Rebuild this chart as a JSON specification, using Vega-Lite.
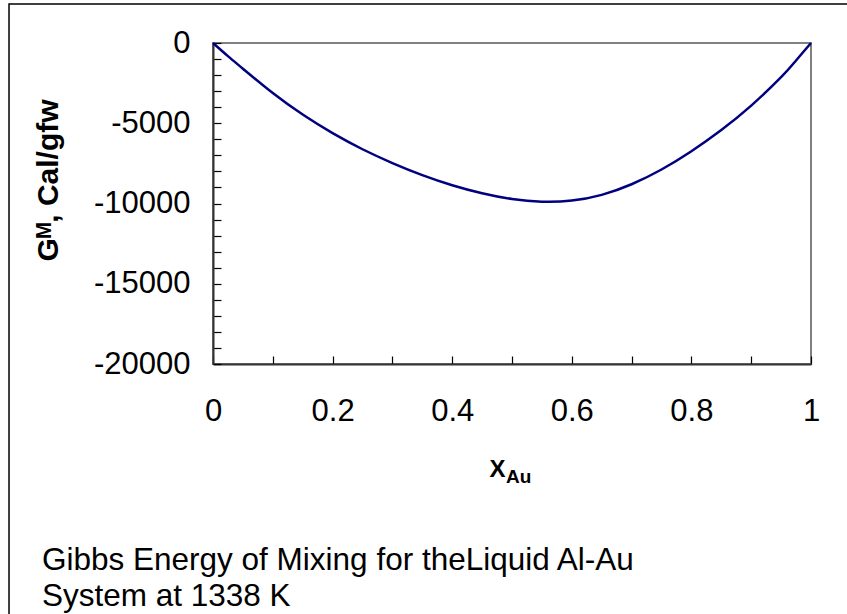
{
  "$schema": "https://vega.github.io/schema/vega-lite/v6.json",
  "width": 598,
  "height": 321,
  "autosize": {"type": "none"},
  "padding": {"left": 213, "top": 43, "right": 36, "bottom": 250},
  "background": "white",
  "config": {
    "view": {"stroke": "#808080", "strokeWidth": 2},
    "font": "Liberation Sans",
    "axisX": {
      "labelExpr": "round(datum.value*10) % 2 === 0 ? '' + datum.value : ''",
      "grid": false,
      "tickSize": -8,
      "tickColor": "black",
      "tickWidth": 1.2,
      "domainColor": "#333333",
      "domainWidth": 2,
      "labelFontSize": 31,
      "labelColor": "black",
      "labelPadding": 40,
      "labelFlush": false,
      "labelOverlap": false,
      "labelBound": false,
      "labelFont": "Liberation Sans",
      "titleFont": "Liberation Sans",
      "titleFontSize": 24,
      "titleFontWeight": "bold",
      "titleColor": "black",
      "titleX": 284,
      "titleY": 112,
      "titleAlign": "center",
      "titleBaseline": "alphabetic"
    },
    "axisY": {
      "labelExpr": "datum.value % 5000 === 0 ? '' + datum.value : ''",
      "grid": false,
      "tickSize": -8,
      "tickColor": "black",
      "tickWidth": 1.2,
      "domainColor": "#333333",
      "domainWidth": 2,
      "labelFontSize": 31,
      "labelColor": "black",
      "labelPadding": 31,
      "labelOverlap": false,
      "labelBound": false,
      "labelFont": "Liberation Sans",
      "titleFont": "Liberation Sans",
      "titleFontSize": 30,
      "titleFontWeight": "bold",
      "titleColor": "black",
      "titleAngle": 270,
      "titleX": -156,
      "titleY": 137,
      "titleAlign": "center",
      "titleBaseline": "alphabetic"
    }
  },
  "title": {
    "text": ["Gibbs Energy of Mixing for theLiquid Al-Au", "System at 1338 K"],
    "orient": "bottom",
    "anchor": "start",
    "frame": "group",
    "dx": -171,
    "offset": -77,
    "fontSize": 31.5,
    "fontWeight": "normal",
    "lineHeight": 36,
    "color": "black",
    "font": "Liberation Sans"
  },
  "layer": [
    {
      "data": {"values": [{"t": "frame"}]},
      "mark": {"type": "rect", "filled": false, "stroke": "black", "strokeWidth": 1.5},
      "encoding": {
        "x": {"datum": -0.3411, "type": "quantitative", "axis": {"title": "X", "values": [0, 0.1, 0.2, 0.3, 0.4, 0.5, 0.6, 0.7, 0.8, 0.9, 1]}},
        "x2": {"datum": 1.07},
        "y": {"datum": 2430, "type": "quantitative", "axis": {"title": "Gᴹ, Cal/gfw", "values": [-20000, -19000, -18000, -17000, -16000, -15000, -14000, -13000, -12000, -11000, -10000, -9000, -8000, -7000, -6000, -5000, -4000, -3000, -2000, -1000, 0]}},
        "y2": {"datum": -36000}
      }
    },
    {
      "data": {
        "values": [
          {"x": 0, "G": 0},
          {"x": 0.025, "G": -820},
          {"x": 0.05, "G": -1600},
          {"x": 0.1, "G": -3120},
          {"x": 0.15, "G": -4460},
          {"x": 0.2, "G": -5620},
          {"x": 0.25, "G": -6620},
          {"x": 0.3, "G": -7480},
          {"x": 0.35, "G": -8230},
          {"x": 0.4, "G": -8860},
          {"x": 0.45, "G": -9360},
          {"x": 0.5, "G": -9720},
          {"x": 0.55, "G": -9890},
          {"x": 0.6, "G": -9820},
          {"x": 0.65, "G": -9460},
          {"x": 0.7, "G": -8800},
          {"x": 0.75, "G": -7880},
          {"x": 0.8, "G": -6740},
          {"x": 0.85, "G": -5420},
          {"x": 0.9, "G": -3900},
          {"x": 0.95, "G": -2130},
          {"x": 0.975, "G": -1090},
          {"x": 1, "G": 0}
        ]
      },
      "mark": {"type": "line", "color": "#000080", "strokeWidth": 2.5, "interpolate": "natural"},
      "encoding": {
        "x": {
          "field": "x",
          "type": "quantitative",
          "scale": {"domain": [0, 1], "nice": false, "zero": false},
          "axis": {"title": "X", "values": [0, 0.1, 0.2, 0.3, 0.4, 0.5, 0.6, 0.7, 0.8, 0.9, 1]}
        },
        "y": {
          "field": "G",
          "type": "quantitative",
          "scale": {"domain": [-20000, 0], "nice": false},
          "axis": {"title": "Gᴹ, Cal/gfw", "values": [-20000, -19000, -18000, -17000, -16000, -15000, -14000, -13000, -12000, -11000, -10000, -9000, -8000, -7000, -6000, -5000, -4000, -3000, -2000, -1000, 0]}
        }
      }
    },
    {
      "data": {"values": [{"t": "Au"}]},
      "mark": {"type": "text", "fontSize": 19, "fontWeight": "bold", "align": "left", "baseline": "alphabetic", "font": "Liberation Sans", "color": "black"},
      "encoding": {
        "x": {"datum": 0.49, "type": "quantitative", "axis": {"title": "X", "values": [0, 0.1, 0.2, 0.3, 0.4, 0.5, 0.6, 0.7, 0.8, 0.9, 1]}},
        "y": {"datum": -27400, "type": "quantitative", "axis": {"title": "Gᴹ, Cal/gfw", "values": [-20000, -19000, -18000, -17000, -16000, -15000, -14000, -13000, -12000, -11000, -10000, -9000, -8000, -7000, -6000, -5000, -4000, -3000, -2000, -1000, 0]}},
        "text": {"field": "t"}
      }
    }
  ]
}
